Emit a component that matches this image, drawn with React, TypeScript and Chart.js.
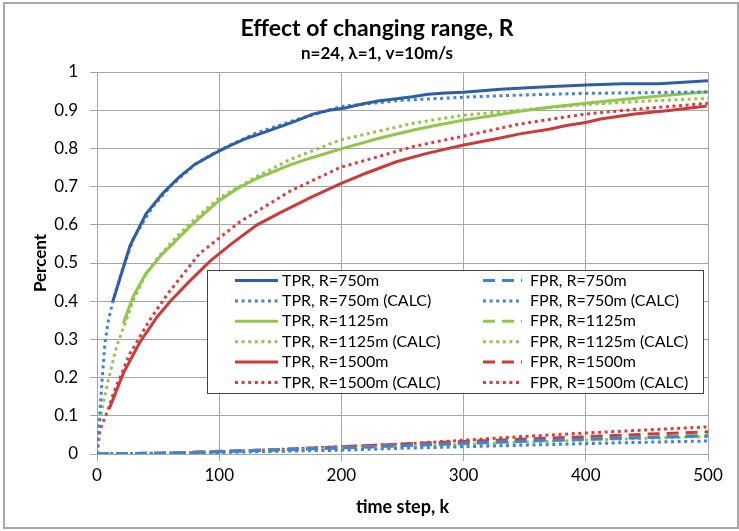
import React, { useEffect, useRef } from "react";
import { Chart, registerables } from "chart.js";

Chart.register(...registerables);

const FONT = "Lato, 'Open Sans', sans-serif";

// ---- Data ----
const xTicks = [0, 100, 200, 300, 400, 500];
const yTicks = [0, 0.1, 0.2, 0.3, 0.4, 0.5, 0.6, 0.7, 0.8, 0.9, 1];

const tpr750X = [13, 27, 40, 54, 67, 80, 95, 108, 122, 135, 150, 163, 176, 190, 203, 217, 230, 245, 258, 271, 285, 300, 330, 360, 400, 430, 460, 480, 500];
const tpr750Y = [0.4, 0.545, 0.628, 0.683, 0.724, 0.758, 0.785, 0.806, 0.826, 0.84, 0.857, 0.872, 0.889, 0.9, 0.906, 0.916, 0.924, 0.93, 0.935, 0.942, 0.945, 0.947, 0.955, 0.96, 0.966, 0.969, 0.969, 0.973, 0.977];

const tpr750CalcX = [0, 2, 4, 6.5, 9, 13, 20, 30, 45, 60, 80, 100, 130, 160, 200, 250, 300, 350, 400, 450, 500];
const tpr750CalcY = [0, 0.09, 0.186, 0.29, 0.345, 0.4, 0.475, 0.565, 0.645, 0.7, 0.758, 0.795, 0.84, 0.872, 0.91, 0.926, 0.934, 0.94, 0.944, 0.946, 0.948];

const tpr1125X = [21.5, 30, 40, 53, 65, 76, 88, 99, 115, 130, 145, 158, 175, 199, 230, 259, 280, 300, 330, 346, 370, 400, 430, 460, 500];
const tpr1125Y = [0.342, 0.415, 0.472, 0.522, 0.56, 0.595, 0.63, 0.661, 0.695, 0.72, 0.74, 0.757, 0.775, 0.798, 0.826, 0.848, 0.862, 0.874, 0.889, 0.897, 0.908, 0.918, 0.928, 0.937, 0.948];

const tpr1125CalcX = [0, 1.5, 5, 10.6, 16, 21.5, 30, 40, 50, 65, 80, 100, 130, 158, 199, 259, 300, 346, 400, 450, 500];
const tpr1125CalcY = [0, 0.07, 0.133, 0.211, 0.281, 0.329, 0.405, 0.47, 0.515, 0.568, 0.615, 0.67, 0.725, 0.771, 0.822, 0.866, 0.887, 0.9, 0.915, 0.924, 0.931];

const tpr1500X = [10, 21.5, 35, 49, 60, 75, 92.5, 110, 131, 150, 175, 199, 220, 245, 270, 300, 330, 346, 370, 384, 400, 412, 440, 470, 499];
const tpr1500Y = [0.118, 0.211, 0.292, 0.358, 0.4, 0.45, 0.505, 0.55, 0.6, 0.632, 0.672, 0.707, 0.735, 0.765, 0.787, 0.809, 0.827, 0.838, 0.85, 0.86, 0.868, 0.877, 0.89, 0.9, 0.911];

const tpr1500CalcX = [0, 2.5, 9, 13.4, 27, 43, 58, 84, 117, 158, 199, 259, 300, 346, 400, 450, 500];
const tpr1500CalcY = [0, 0.063, 0.115, 0.159, 0.263, 0.35, 0.42, 0.525, 0.608, 0.688, 0.75, 0.805, 0.832, 0.864, 0.89, 0.905, 0.918];

const fprX = [0, 50, 100, 150, 200, 250, 300, 350, 400, 450, 500];
const fpr750Y = [0, 0.002, 0.006, 0.011, 0.016, 0.022, 0.028, 0.034, 0.039, 0.043, 0.047];
const fpr750CalcY = [0, 0.001, 0.004, 0.007, 0.01, 0.015, 0.019, 0.023, 0.027, 0.031, 0.034];
const fpr1125Y = [0, 0.002, 0.006, 0.011, 0.016, 0.022, 0.027, 0.033, 0.038, 0.044, 0.05];
const fpr1125CalcY = [0, 0.002, 0.005, 0.009, 0.014, 0.019, 0.025, 0.031, 0.036, 0.041, 0.046];
const fpr1500Y = [0, 0.002, 0.007, 0.012, 0.019, 0.026, 0.033, 0.039, 0.045, 0.052, 0.058];
const fpr1500CalcY = [0, 0.002, 0.006, 0.012, 0.019, 0.026, 0.036, 0.046, 0.055, 0.063, 0.071];

const pts = (xs: number[], ys: number[]) => xs.map((x, i) => ({ x, y: ys[i] }));

const DOT = [3, 3.6];
const DASH = [12, 7];

const BLUE = "#2e5fa3";
const BLUE_L = "#3f82da";
const GREEN = "#92c64a";
const RED = "#cc3a3a";
const RED_L = "#e03a3a";

const insideLegend = {
  id: "insideLegend",
  afterDatasetsDraw(chart: any) {
    const { ctx, chartArea } = chart;
    const left = chartArea.left + 110;
    const top = chartArea.top + 198;
    const right = chartArea.right - 5;
    const bottom = chartArea.top + 321;
    ctx.save();
    ctx.fillStyle = "#ffffff";
    ctx.fillRect(left, top, right - left, bottom - top);
    ctx.strokeStyle = "#404040";
    ctx.lineWidth = 1;
    ctx.strokeRect(Math.round(left) + 0.5, Math.round(top) + 0.5, Math.round(right - left), Math.round(bottom - top));
    const rowH = 20.4;
    chart.data.datasets.forEach((ds: any, i: number) => {
      const row = Math.floor(i / 2);
      const col = i % 2;
      const y = top + 10.5 + row * rowH;
      const x0 = col === 0 ? left + 28 : left + 276;
      const x1 = col === 0 ? left + 71 : left + 315;
      ctx.beginPath();
      ctx.setLineDash(ds.borderDash || []);
      ctx.strokeStyle = ds.borderColor;
      ctx.lineWidth = ds.borderWidth;
      ctx.moveTo(x0, y);
      ctx.lineTo(x1, y);
      ctx.stroke();
      ctx.setLineDash([]);
      ctx.fillStyle = "#000";
      ctx.font = `16px ${FONT}`;
      ctx.textBaseline = "middle";
      ctx.textAlign = "left";
      ctx.fillText(ds.label, col === 0 ? left + 75 : left + 323, y);
    });
    ctx.restore();
  },
};

export default function App() {
  const ref = useRef<HTMLCanvasElement | null>(null);
  useEffect(() => {
    if (!ref.current) return;
    const mk = (label: string, data: any, color: string, dash: number[] | undefined, width: number) => ({
      label,
      data,
      borderColor: color,
      backgroundColor: color,
      borderDash: dash,
      borderWidth: width,
      pointRadius: 0,
      tension: 0,
      fill: false,
    });
    const chart = new Chart(ref.current, {
      type: "line",
      data: {
        datasets: [
          mk("TPR, R=750m", pts(tpr750X, tpr750Y), BLUE, undefined, 3),
          mk("FPR, R=750m", pts(fprX, fpr750Y), BLUE_L, DASH, 3),
          mk("TPR, R=750m (CALC)", pts(tpr750CalcX, tpr750CalcY), BLUE_L, DOT, 3),
          mk("FPR, R=750m (CALC)", pts(fprX, fpr750CalcY), BLUE_L, DOT, 3),
          mk("TPR, R=1125m", pts(tpr1125X, tpr1125Y), GREEN, undefined, 3),
          mk("FPR, R=1125m", pts(fprX, fpr1125Y), GREEN, DASH, 3),
          mk("TPR, R=1125m (CALC)", pts(tpr1125CalcX, tpr1125CalcY), GREEN, DOT, 3),
          mk("FPR, R=1125m (CALC)", pts(fprX, fpr1125CalcY), GREEN, DOT, 3),
          mk("TPR, R=1500m", pts(tpr1500X, tpr1500Y), RED, undefined, 3),
          mk("FPR, R=1500m", pts(fprX, fpr1500Y), RED, DASH, 3),
          mk("TPR, R=1500m (CALC)", pts(tpr1500CalcX, tpr1500CalcY), RED_L, DOT, 3),
          mk("FPR, R=1500m (CALC)", pts(fprX, fpr1500CalcY), RED_L, DOT, 3),
        ],
      },
      options: {
        responsive: false,
        animation: false,
        parsing: true,
        layout: { padding: { left: 46, right: 31, top: 0, bottom: 0 } },
        plugins: {
          legend: { display: false },
          tooltip: { enabled: false },
          title: {
            display: true,
            text: "Effect of changing range, R",
            color: "#000",
            font: { family: FONT, size: 23, weight: "bold" },
            padding: { top: 15, bottom: 0 },
          },
          subtitle: {
            display: true,
            text: "n=24, \u03bb=1, v=10m/s",
            color: "#000",
            font: { family: FONT, size: 17, weight: "bold" },
            padding: { top: 1, bottom: 8 },
          },
        },
        scales: {
          x: {
            type: "linear",
            min: 0,
            max: 500,
            afterBuildTicks: (s: any) => {
              s.ticks = xTicks.map((v) => ({ value: v }));
            },
            afterFit: (s: any) => {
              s.height = 77;
            },
            ticks: {
              color: "#000",
              font: { family: FONT, size: 17 },
              padding: 4,
              maxRotation: 0,
              callback: (v: any) => String(v),
            },
            grid: { color: "#a6a6a6", lineWidth: 1, tickLength: 7, drawTicks: true },
            border: { color: "#a6a6a6", width: 1 },
            title: {
              display: true,
              text: "time step, k",
              color: "#000",
              font: { family: FONT, size: 18, weight: "bold" },
              padding: { top: 0, bottom: 13 },
            },
          },
          y: {
            type: "linear",
            min: 0,
            max: 1,
            afterBuildTicks: (s: any) => {
              s.ticks = yTicks.map((v) => ({ value: v }));
            },
            afterFit: (s: any) => {
              s.width = 51;
            },
            ticks: {
              color: "#000",
              font: { family: FONT, size: 17 },
              padding: 12,
              callback: (v: any) => String(Math.round(Number(v) * 10) / 10),
            },
            grid: { color: "#a6a6a6", lineWidth: 1, tickLength: 7, drawTicks: true },
            border: { color: "#a6a6a6", width: 1 },
            title: {
              display: true,
              text: "Percent",
              color: "#000",
              font: { family: FONT, size: 17, weight: "bold" },
              padding: { top: -16, bottom: 0 },
            },
          },
        },
      } as any,
      plugins: [insideLegend],
    });
    return () => chart.destroy();
  }, []);

  return (
    <div style={{ position: "absolute", left: 0, top: 0, width: 739, height: 531, background: "#fff", overflow: "hidden" }}>
      <canvas ref={ref} width={739} height={531} style={{ display: "block" }} />
      <div
        style={{
          position: "absolute",
          left: 3,
          top: 2,
          width: 736,
          height: 527,
          boxSizing: "border-box",
          border: "2px solid #a8a8a8",
          pointerEvents: "none",
        }}
      />
    </div>
  );
}
